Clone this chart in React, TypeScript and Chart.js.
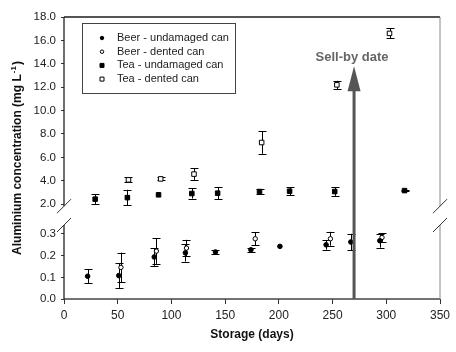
import React, { useEffect, useRef } from "react";
import { Chart, registerables } from "chart.js";

Chart.register(...registerables);

// ---- Data (storage days, aluminium concentration mg/L, error) ----
const beerUndamagedDays = [22, 51, 84, 113, 141, 174, 201, 244, 267, 294];
const beerUndamagedAl = [0.105, 0.108, 0.194, 0.213, 0.217, 0.227, 0.243, 0.25, 0.263, 0.269];
const beerUndamagedErr = [0.033, 0.057, 0.041, 0.04, 0.008, 0.008, 0, 0.022, 0.038, 0.032];

const beerDentedDays = [53, 86, 114, 178, 248, 296];
const beerDentedAl = [0.146, 0.221, 0.235, 0.278, 0.278, 0.284];
const beerDentedErr = [0.068, 0.059, 0.038, 0.031, 0.032, 0.02];

const teaUndamagedDays = [29, 59, 88, 119, 143, 182, 210, 252, 317];
const teaUndamagedAl = [2.43, 2.56, 2.8, 2.91, 2.94, 3.08, 3.11, 3.08, 3.16];
const teaUndamagedErr = [0.41, 0.67, 0, 0.43, 0.5, 0.2, 0.34, 0.37, 0.05];

const teaDentedDays = [60, 90, 121, 184, 254, 303];
const teaDentedAl = [4.08, 4.16, 4.57, 7.27, 12.2, 16.6];
const teaDentedErr = [0.2, 0.12, 0.49, 0.96, 0.35, 0.43];

const seriesLabels = [
  "Beer - undamaged can",
  "Beer - dented can",
  "Tea - undamaged can",
  "Tea - dented can",
];

const xTickValues = [0, 50, 100, 150, 200, 250, 300, 350];
const yUpperTicks = [2, 4, 6, 8, 10, 12, 14, 16, 18];
const yLowerTicks = [0, 0.1, 0.2, 0.3];

const SELL_BY_DAY = 270;
const SELL_BY_TIP = 13.8; // value on upper scale where arrow tip sits
const SELL_BY_TEXT = "Sell-by date";

const X_TITLE = "Storage (days)";
const Y_TITLE_MAIN = "Aluminium concentration (mg L";
const Y_TITLE_SUP = "-1";
const Y_TITLE_END = ")";

const FONT = '"Liberation Sans", Arial, Helvetica, sans-serif';

const toPoints = (xs: number[], ys: number[]) => xs.map((x, i) => ({ x, y: ys[i] }));

function drawMarker(ctx: CanvasRenderingContext2D, style: string, filled: boolean, x: number, y: number, size: number) {
  ctx.save();
  ctx.beginPath();
  if (style === "circle") {
    ctx.arc(x, y, size / 2, 0, Math.PI * 2);
  } else {
    ctx.rect(x - size / 2, y - size / 2, size, size);
  }
  ctx.fillStyle = filled ? "#000" : "#fff";
  ctx.fill();
  ctx.lineWidth = 1;
  ctx.strokeStyle = "#000";
  ctx.stroke();
  ctx.restore();
}

const errorBarPlugin = {
  id: "errorBars",
  beforeDatasetsDraw(chart: any) {
    const ctx = chart.ctx;
    const xs = chart.scales.x;
    chart.data.datasets.forEach((ds: any) => {
      const ys = chart.scales[ds.yAxisID];
      ctx.save();
      ctx.strokeStyle = "#000";
      ctx.lineWidth = 1;
      ds.data.forEach((p: any, i: number) => {
        const e = ds.errors[i];
        if (!e) return;
        const px = Math.round(xs.getPixelForValue(p.x)) + 0.5;
        const y1 = ys.getPixelForValue(p.y + e);
        const y2 = ys.getPixelForValue(p.y - e);
        ctx.beginPath();
        ctx.moveTo(px, y1);
        ctx.lineTo(px, y2);
        ctx.moveTo(px - 4, Math.round(y1) + 0.5);
        ctx.lineTo(px + 4, Math.round(y1) + 0.5);
        ctx.moveTo(px - 4, Math.round(y2) + 0.5);
        ctx.lineTo(px + 4, Math.round(y2) + 0.5);
        ctx.stroke();
      });
      ctx.restore();
    });
  },
};

const decorPlugin = {
  id: "decor",
  afterDraw(chart: any) {
    const ctx: CanvasRenderingContext2D = chart.ctx;
    const a = chart.chartArea;
    const xs = chart.scales.x;
    const yTop = chart.scales.yTop;
    const yBot = chart.scales.yBot;

    const breakA = yTop.getPixelForValue(yUpperTicks[0]) + 2;
    const breakB = yBot.getPixelForValue(yLowerTicks[yLowerTicks.length - 1]) - 9;

    ctx.save();
    // top border
    ctx.strokeStyle = "#555";
    ctx.lineWidth = 2;
    ctx.beginPath();
    ctx.moveTo(a.left, a.top);
    ctx.lineTo(a.right, a.top);
    ctx.stroke();
    // bottom axis
    ctx.lineWidth = 1.6;
    ctx.strokeStyle = "#444";
    ctx.beginPath();
    ctx.moveTo(a.left, a.bottom);
    ctx.lineTo(a.right, a.bottom);
    ctx.stroke();
    // left axis with break
    ctx.lineWidth = 1.3;
    ctx.strokeStyle = "#222";
    ctx.beginPath();
    ctx.moveTo(a.left, a.top);
    ctx.lineTo(a.left, breakA);
    ctx.moveTo(a.left, breakB);
    ctx.lineTo(a.left, a.bottom);
    ctx.stroke();
    // right border with break
    ctx.lineWidth = 1;
    ctx.strokeStyle = "#888";
    ctx.beginPath();
    ctx.moveTo(a.right, a.top);
    ctx.lineTo(a.right, breakA);
    ctx.moveTo(a.right, breakB);
    ctx.lineTo(a.right, a.bottom);
    ctx.stroke();
    // break slashes
    ctx.strokeStyle = "#333";
    ctx.lineWidth = 1;
    [a.left, a.right].forEach((bx: number) => {
      [breakA, breakB].forEach((by: number) => {
        ctx.beginPath();
        ctx.moveTo(bx - 7, by + 7);
        ctx.lineTo(bx + 7, by - 7);
        ctx.stroke();
      });
    });

    // sell-by arrow
    const ax = xs.getPixelForValue(SELL_BY_DAY);
    const tip = yTop.getPixelForValue(SELL_BY_TIP);
    const headLen = 25;
    ctx.strokeStyle = "#555";
    ctx.fillStyle = "#555";
    ctx.lineWidth = 3;
    ctx.beginPath();
    ctx.moveTo(ax, a.bottom);
    ctx.lineTo(ax, tip + headLen - 1);
    ctx.stroke();
    ctx.beginPath();
    ctx.moveTo(ax, tip);
    ctx.lineTo(ax - 6.5, tip + headLen);
    ctx.lineTo(ax + 6.5, tip + headLen);
    ctx.closePath();
    ctx.fill();
    ctx.font = `bold 13px ${FONT}`;
    ctx.fillStyle = "#666";
    ctx.textAlign = "center";
    ctx.textBaseline = "middle";
    ctx.fillText(SELL_BY_TEXT, ax - 2, tip - 9);

    // legend
    const lx = 82.5, ly = 23.5, lw = 153, lh = 70;
    ctx.lineWidth = 1;
    ctx.strokeStyle = "#444";
    ctx.strokeRect(lx, ly, lw, lh);
    ctx.font = `11px ${FONT}`;
    ctx.fillStyle = "#222";
    ctx.textAlign = "left";
    ctx.textBaseline = "middle";
    chart.data.datasets.forEach((ds: any, i: number) => {
      const ry = 38 + i * 13.7;
      drawMarker(ctx, ds.pointStyle, ds.pointBackgroundColor === "#000", 102, ry, ds.pointStyle === "circle" ? 3.5 : 4);
      ctx.fillStyle = "#222";
      ctx.fillText(seriesLabels[i], 117, ry);
    });

    // y title
    ctx.save();
    ctx.translate(18, (a.top + a.bottom) / 2);
    ctx.rotate(-Math.PI / 2);
    ctx.fillStyle = "#111";
    ctx.textBaseline = "middle";
    ctx.textAlign = "left";
    const bigFont = `bold 12px ${FONT}`;
    const smallFont = `bold 8px ${FONT}`;
    ctx.font = bigFont;
    const w1 = ctx.measureText(Y_TITLE_MAIN).width;
    const w3 = ctx.measureText(Y_TITLE_END).width;
    ctx.font = smallFont;
    const w2 = ctx.measureText(Y_TITLE_SUP).width + 2;
    const total = w1 + w2 + w3;
    const x0 = -total / 2;
    ctx.font = bigFont;
    ctx.fillText(Y_TITLE_MAIN, x0, 0);
    ctx.font = smallFont;
    ctx.fillText(Y_TITLE_SUP, x0 + w1 + 1, -4);
    ctx.font = bigFont;
    ctx.fillText(Y_TITLE_END, x0 + w1 + w2, 0);
    ctx.restore();

    ctx.restore();
  },
};

export default function App() {
  const ref = useRef<HTMLCanvasElement | null>(null);

  useEffect(() => {
    if (!ref.current) return;
    const fixWidth = (s: any) => {
      s.width = 64;
    };
    const yTickOpts = {
      font: { family: FONT, size: 11.5 },
      color: "#222",
      padding: 5,
      autoSkip: false,
      callback: (v: any) => Number(v).toFixed(1),
    };
    const chart = new Chart(ref.current, {
      type: "scatter",
      data: {
        datasets: [
          {
            label: seriesLabels[0],
            data: toPoints(beerUndamagedDays, beerUndamagedAl),
            errors: beerUndamagedErr,
            yAxisID: "yBot",
            pointStyle: "circle",
            pointRadius: 2.3,
            pointBackgroundColor: "#000",
            pointBorderColor: "#000",
            pointBorderWidth: 1,
          } as any,
          {
            label: seriesLabels[1],
            data: toPoints(beerDentedDays, beerDentedAl),
            errors: beerDentedErr,
            yAxisID: "yBot",
            pointStyle: "circle",
            pointRadius: 2.2,
            pointBackgroundColor: "#fff",
            pointBorderColor: "#000",
            pointBorderWidth: 1,
          } as any,
          {
            label: seriesLabels[2],
            data: toPoints(teaUndamagedDays, teaUndamagedAl),
            errors: teaUndamagedErr,
            yAxisID: "yTop",
            pointStyle: "rect",
            pointRadius: 3.2,
            pointBackgroundColor: "#000",
            pointBorderColor: "#000",
            pointBorderWidth: 1,
          } as any,
          {
            label: seriesLabels[3],
            data: toPoints(teaDentedDays, teaDentedAl),
            errors: teaDentedErr,
            yAxisID: "yTop",
            pointStyle: "rect",
            pointRadius: 3.2,
            pointBackgroundColor: "#fff",
            pointBorderColor: "#000",
            pointBorderWidth: 1,
          } as any,
        ],
      },
      options: {
        responsive: false,
        animation: false,
        layout: { padding: { left: 0, top: 17, right: 16, bottom: 0 } },
        plugins: {
          legend: { display: false },
          tooltip: { enabled: false },
        },
        scales: {
          x: {
            type: "linear",
            min: 0,
            max: 350,
            afterBuildTicks: (s: any) => {
              s.ticks = xTickValues.map((v) => ({ value: v }));
            },
            afterFit: (s: any) => {
              s.height = 53;
            },
            ticks: {
              font: { family: FONT, size: 12 },
              color: "#222",
              padding: 4,
              maxRotation: 0,
              autoSkip: false,
            },
            grid: { drawOnChartArea: false, tickLength: 5, color: "#333" },
            border: { display: false },
            title: {
              display: true,
              text: X_TITLE,
              font: { family: FONT, size: 12, weight: "bold" },
              color: "#111",
              padding: { top: 4, bottom: 10 },
            },
          },
          yBot: {
            type: "linear",
            position: "left",
            stack: "y",
            stackWeight: 65,
            min: 0,
            max: 0.3,
            afterBuildTicks: (s: any) => {
              s.ticks = yLowerTicks.map((v) => ({ value: v }));
            },
            afterFit: fixWidth,
            ticks: yTickOpts,
            grid: { drawOnChartArea: false, tickLength: 3, color: "#333" },
            border: { display: false },
          },
          yTop: {
            type: "linear",
            position: "left",
            stack: "y",
            stackWeight: 217,
            min: -0.55,
            max: 18,
            afterBuildTicks: (s: any) => {
              s.ticks = yUpperTicks.map((v) => ({ value: v }));
            },
            afterFit: fixWidth,
            ticks: yTickOpts,
            grid: { drawOnChartArea: false, tickLength: 3, color: "#333" },
            border: { display: false },
          },
        },
      } as any,
      plugins: [errorBarPlugin, decorPlugin],
    });
    return () => chart.destroy();
  }, []);

  return (
    <div style={{ position: "fixed", left: 0, top: 0, width: 456, height: 352, background: "#fff" }}>
      <canvas ref={ref} width={456} height={352} />
    </div>
  );
}
